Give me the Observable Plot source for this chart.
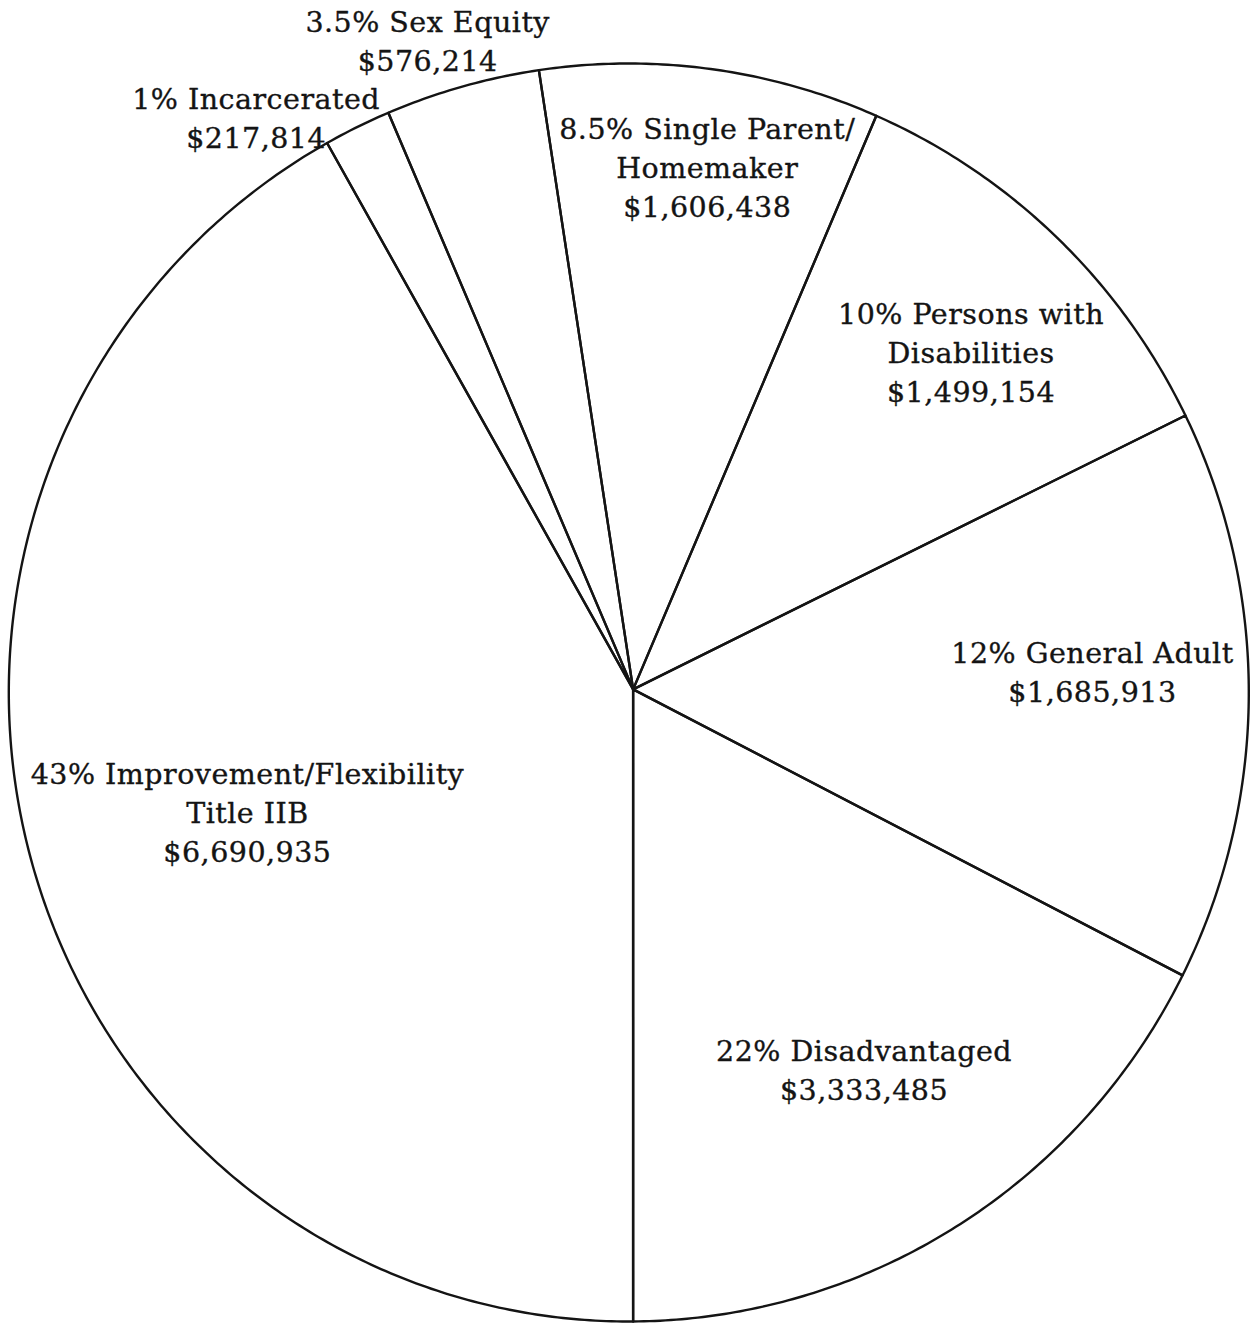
<!DOCTYPE html>
<html>
<head>
<meta charset="utf-8">
<script src="https://cdn.jsdelivr.net/npm/d3@7"></script>
<script src="https://cdn.jsdelivr.net/npm/@observablehq/plot@0.6"></script>
<style>
  html, body { margin: 0; padding: 0; background: #ffffff; }
  #chart svg { display: block; }
  #chart text { letter-spacing: 0.5px; }
</style>
</head>
<body>
<div id="chart"></div>
<script>
// ---- Data ----
const categories = [
  "Single Parent/\nHomemaker",
  "Persons with\nDisabilities",
  "General Adult",
  "Disadvantaged",
  "Improvement/Flexibility\nTitle IIB",
  "Incarcerated",
  "Sex Equity"
];
const percentLabels = ["8.5%", "10%", "12%", "22%", "43%", "1%", "3.5%"];
const amounts = [1606438, 1499154, 1685913, 3333485, 6690935, 217814, 576214];
// slice sizes as drawn in the picture (degrees of the circle)
const drawnDegrees = [31.87, 40.34, 52.85, 62.88, 151.28, 6.30, 14.48];

// ---- Layout ----
const startAngle = -8.34;                 // degrees clockwise from 12 o'clock
const labelNudge = [1.9, 6.4, 0.9, 1.5, -8.9, -8.8, -2.6];   // degrees from slice middle
const labelRadius = [0.767, 0.7195, 0.748, 0.751, 0.6716, 1.054, 1.0398];
const hub = {x: 0.007, y: 0.005};
const fmt = d3.format("$,");
const rad = (deg) => deg * Math.PI / 180;

// build slices
let acc = startAngle;
const slices = categories.map((c, i) => {
  const a0 = acc, a1 = acc + drawnDegrees[i];
  acc = a1;
  return {i, name: c, a0, a1, mid: (a0 + a1) / 2};
});

// outline of each slice: hub -> arc -> hub
const outline = [];
for (const s of slices) {
  outline.push({slice: s.i, x: hub.x, y: hub.y});
  const n = Math.max(2, Math.ceil((s.a1 - s.a0) / 0.5));
  for (let k = 0; k <= n; ++k) {
    const a = rad(s.a0 + (s.a1 - s.a0) * k / n);
    outline.push({slice: s.i, x: Math.sin(a), y: Math.cos(a)});
  }
  outline.push({slice: s.i, x: hub.x, y: hub.y});
}

const labels = slices.map((s) => {
  const a = rad(s.mid + labelNudge[s.i]);
  const r = labelRadius[s.i];
  return {
    x: r * Math.sin(a),
    y: r * Math.cos(a),
    text: `${percentLabels[s.i]} ${categories[s.i]}\n${fmt(amounts[s.i])}`
  };
});

const chart = Plot.plot({
  width: 1257,
  height: 1325,
  margin: 0,
  style: {background: "#ffffff"},
  x: {domain: [-1, 1], range: [8.3, 1248.3], axis: null},
  y: {domain: [-1, 1], range: [1321, 63], axis: null},
  marks: [
    Plot.line(outline, {
      x: "x", y: "y", z: "slice",
      stroke: "#141414", strokeWidth: 2.4,
      strokeLinejoin: "round", strokeLinecap: "round"
    }),
    Plot.text(labels, {
      x: "x", y: "y", text: "text",
      textAnchor: "middle", lineAnchor: "bottom", lineHeight: 1.365,
      fontSize: 28.5, fontFamily: "DejaVu Serif", fill: "#141414",
      stroke: "#141414", strokeWidth: 0.35
    })
  ]
});
document.getElementById("chart").appendChild(chart);
</script>
</body>
</html>
